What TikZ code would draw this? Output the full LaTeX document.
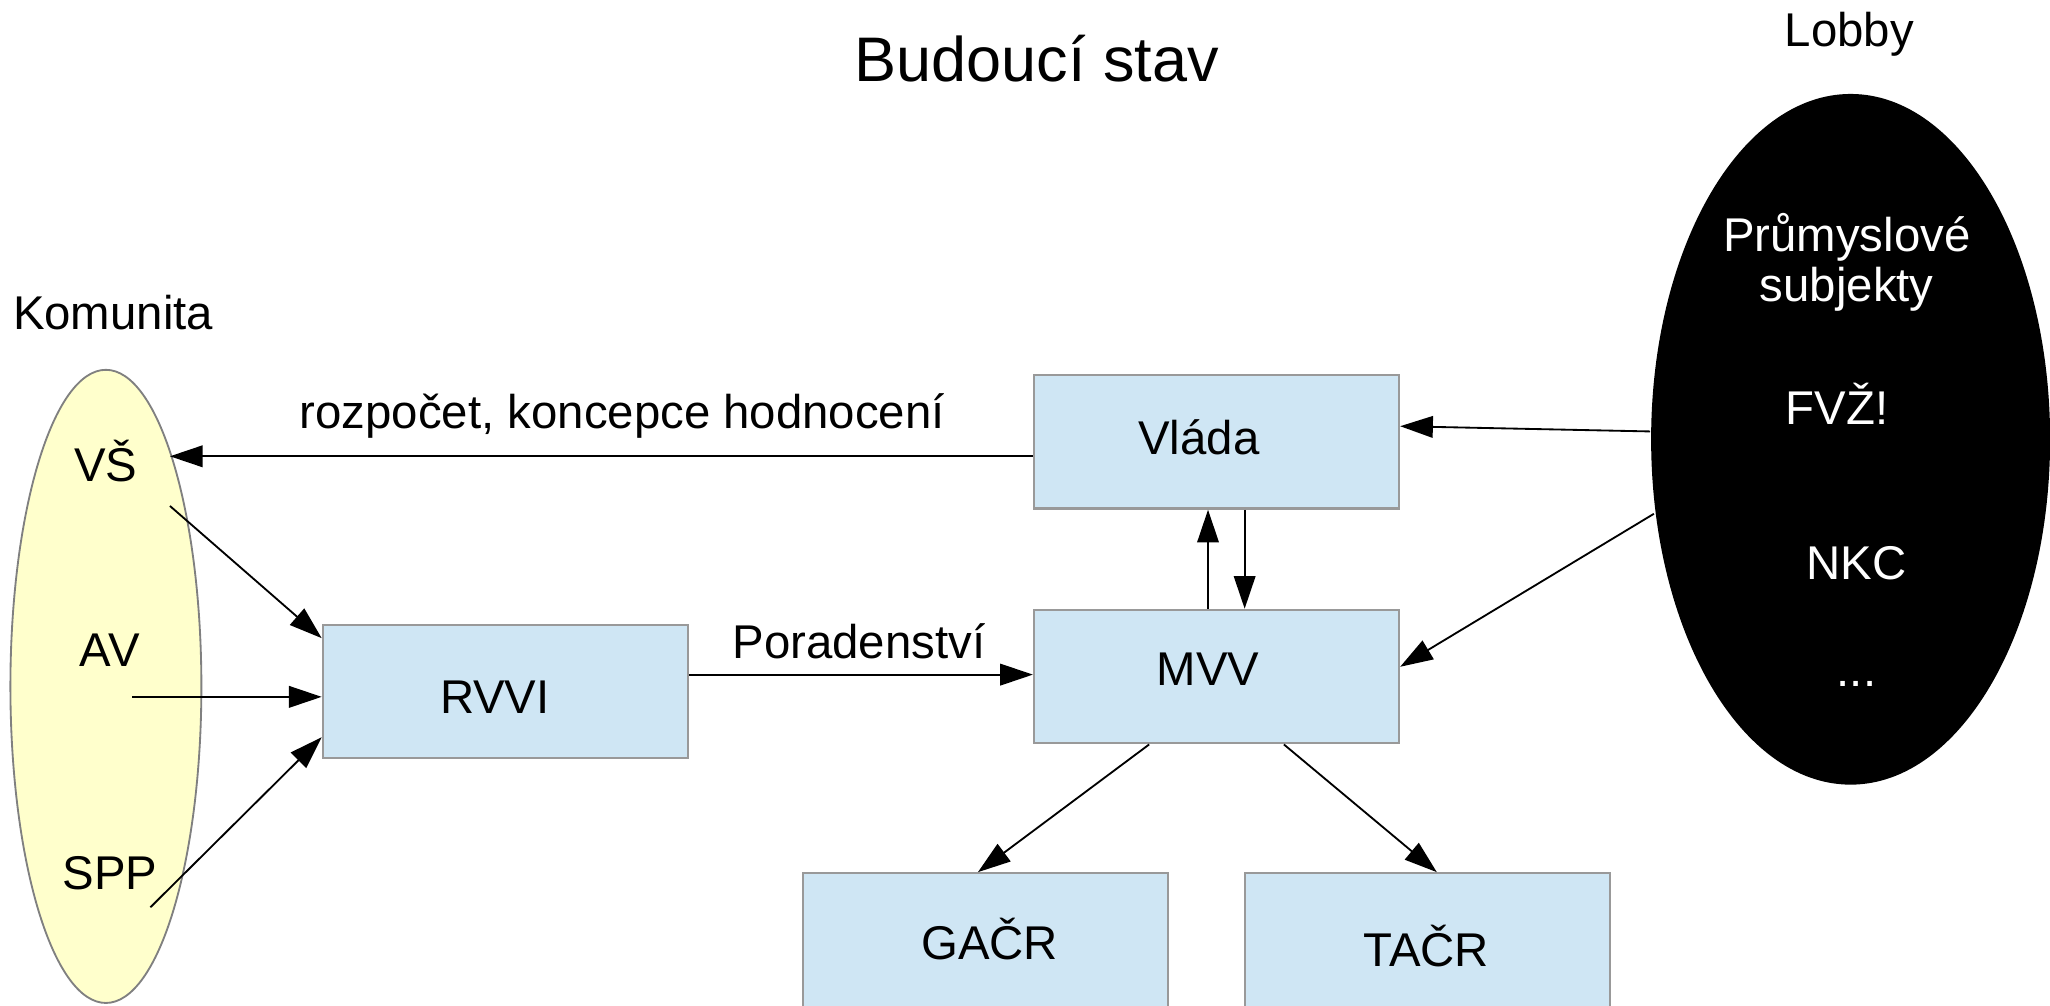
\documentclass[tikz,border=0pt]{standalone}
\usepackage{fontspec}
\setmainfont{Liberation Sans}
\usetikzlibrary{arrows.meta,shapes.geometric,calc}
\definecolor{boxfill}{HTML}{CFE6F4}
\definecolor{boxline}{HTML}{999999}
\definecolor{kfill}{HTML}{FFFFCC}
\begin{document}
\begin{tikzpicture}[x=0.01cm,y=-0.01cm,
  box/.style={draw=boxline,fill=boxfill,line width=0.5pt,minimum width=2.79cm,minimum height=1.02cm,inner sep=0pt},
  txt/.style={font=\fontsize{10.3pt}{11pt}\selectfont,inner sep=0pt,anchor=base},
  wtxt/.style={txt,text=white},
  conn/.style={line width=0.4pt,-{Triangle[length=0.25cm,width=0.165cm]}}]
\clip (0,0) rectangle (1568,769);
\fill[white] (0,0) rectangle (1568,769);
% ellipses
\node[ellipse,draw=gray,fill=kfill,minimum width=1.46cm,minimum height=4.84cm,inner sep=0pt,line width=0.4pt] (kom) at (81,525) {};
\node[ellipse,fill=black,minimum width=3.05cm,minimum height=5.28cm,inner sep=0pt] (lobby) at (1415.5,336) {};
% boxes
\node[box] (vlada) at (930.5,338) {};
\node[box] (mvv) at (930.5,517.5) {};
\node[box] (rvvi) at (386.5,529) {};
\node[box] (gacr) at (754,719) {};
\node[box] (tacr) at (1092,719) {};
% texts
\node[txt] (tvlada) at (917,348) {Vláda};
\node[txt] (tmvv) at (924,524.5) {MVV};
\node[txt] (trvvi) at (378.5,545.5) {RVVI};
\node[txt] (tgacr) at (757,734) {GAČR};
\node[txt] (ttacr) at (1091,739) {TAČR};
\node[txt] (vs) at (81,368.5) {VŠ};
\node[txt] (av) at (84,509.7) {AV};
\node[txt] (spp) at (84,680) {SPP};
\node[txt] (tkom) at (86.5,252.4) {Komunita};
\node[txt] (tlobby) at (1414.5,35.7) {Lobby};
\node[txt,font=\fontsize{13.7pt}{16pt}\selectfont] (title) at (793,62.5) {Budoucí stav};
\node[txt] (lrozp) at (476,327.6) {rozpočet, koncepce hodnocení};
\node[txt] (lporad) at (657,504) {Poradenství};
\node[wtxt] (prum) at (1412.5,192) {Průmyslové};
\node[wtxt] (subj) at (1412.5,230.8) {subjekty};
\node[wtxt] (fvz) at (1405,325) {FVŽ!};
\node[wtxt] (nkc) at (1420,443) {NKC};
\node[wtxt] (dots) at (1420,525) {...};
% connectors
\coordinate (vsin) at (130,349);
\coordinate (vsout) at (130,387);
\coordinate (avout) at (101,533);
\coordinate (sppout) at (115,694);
\coordinate (lobout) at (1265,393);
\draw[conn] (vlada.west |- vsin) -- (vsin);
\draw[conn] (vsout) -- ([yshift=-0.11cm]rvvi.north west);
\draw[conn] (avout) -- (avout -| rvvi.west);
\draw[conn] (sppout) -- ([yshift=0.17cm]rvvi.south west);
\draw[conn] ([yshift=0.13cm]rvvi.east) -- ([yshift=0.13cm]rvvi.east -| mvv.west);
\draw[conn] ([xshift=-0.065cm]mvv.north) -- ([xshift=-0.065cm]vlada.south);
\draw[conn] ([xshift=0.215cm]vlada.south) -- ([xshift=0.215cm]mvv.north);
\draw[conn] ([yshift=0.06cm]lobby.west) -- ([yshift=0.12cm]vlada.east);
\draw[conn] (lobout) -- ([yshift=0.075cm]mvv.east);
\draw[conn] ([xshift=-0.515cm]mvv.south) -- ([xshift=-0.06cm]gacr.north);
\draw[conn] ([xshift=0.515cm]mvv.south) -- ([xshift=0.07cm]tacr.north);
\end{tikzpicture}
\end{document}
